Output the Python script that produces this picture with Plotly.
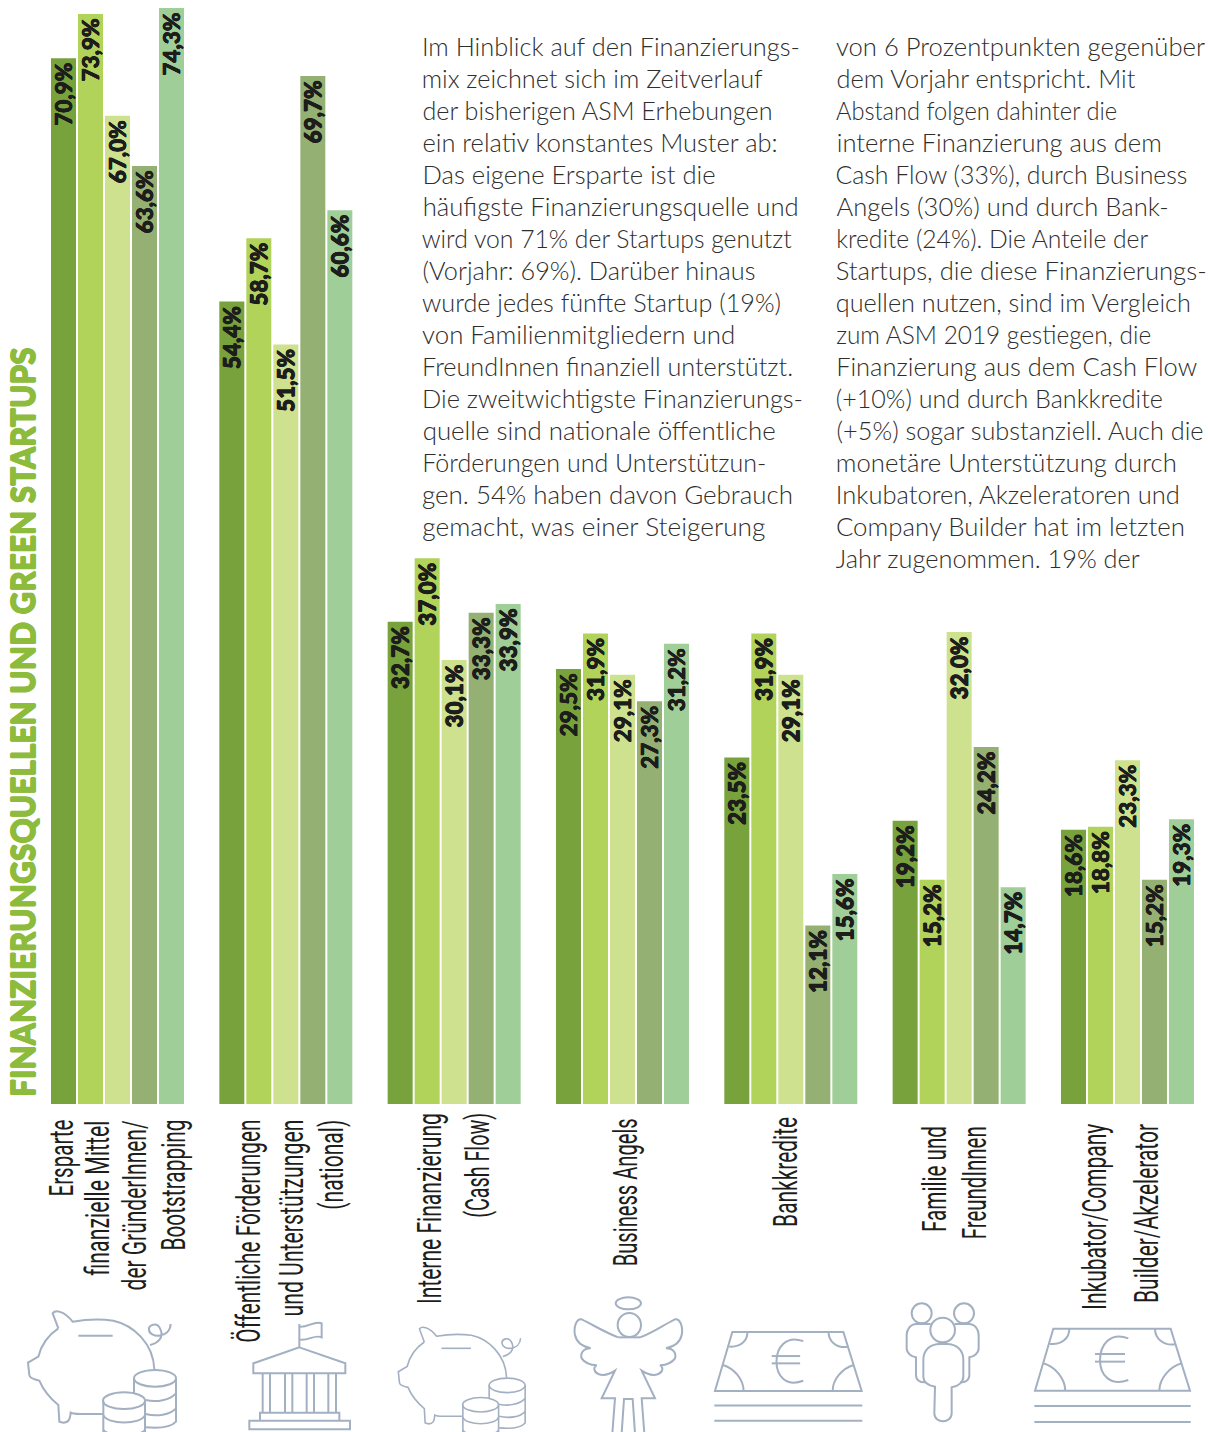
import re
import json
import plotly.graph_objects as go

W, H = 1208, 1432

categories = ["Ersparte", "Förderungen", "Cash Flow", "Business Angels", "Bankkredite", "Familie", "Inkubator"]
series_names = ["Reihe 1", "Reihe 2", "Reihe 3", "Reihe 4", "Reihe 5"]
s1 = [70.9, 54.4, 32.7, 29.5, 23.5, 19.2, 18.6]
s2 = [73.9, 58.7, 37.0, 31.9, 31.9, 15.2, 18.8]
s3 = [67.0, 51.5, 30.1, 29.1, 29.1, 32.0, 23.3]
s4 = [63.6, 69.7, 33.3, 27.3, 12.1, 24.2, 15.2]
s5 = [74.3, 60.6, 33.9, 31.2, 15.6, 14.7, 19.3]
all_series = [s1, s2, s3, s4, s5]
colors = ["#78a23c", "#b2d35a", "#cde18f", "#95b073", "#a0ce98"]

title_text = "FINANZIERUNGSQUELLEN UND GREEN STARTUPS"

col1_lines = [
    "Im Hinblick auf den Finanzierungs-", "mix zeichnet sich im Zeitverlauf",
    "der bisherigen ASM Erhebungen", "ein relativ konstantes Muster ab:",
    "Das eigene Ersparte ist die", "häufigste Finanzierungsquelle und",
    "wird von 71% der Startups genutzt", "(Vorjahr: 69%). Darüber hinaus",
    "wurde jedes fünfte Startup (19%)", "von Familienmitgliedern und",
    "FreundInnen finanziell unterstützt.", "Die zweitwichtigste Finanzierungs-",
    "quelle sind nationale öffentliche", "Förderungen und Unterstützun-",
    "gen. 54% haben davon Gebrauch", "gemacht, was einer Steigerung",
]
col1_ends = [800, 763, 772, 777, 715, 798, 792, 755, 781, 735, 793, 803, 775, 766, 793, 765]
col2_lines = [
    "von 6 Prozentpunkten gegenüber", "dem Vorjahr entspricht. Mit",
    "Abstand folgen dahinter die", "interne Finanzierung aus dem",
    "Cash Flow (33%), durch Business", "Angels (30%) und durch Bank-",
    "kredite (24%). Die Anteile der", "Startups, die diese Finanzierungs-",
    "quellen nutzen, sind im Vergleich", "zum ASM 2019 gestiegen, die",
    "Finanzierung aus dem Cash Flow", "(+10%) und durch Bankkredite",
    "(+5%) sogar substanziell. Auch die", "monetäre Unterstützung durch",
    "Inkubatoren, Akzeleratoren und", "Company Builder hat im letzten",
    "Jahr zugenommen. 19% der",
]
col2_ends = [1205, 1135, 1117, 1161, 1188, 1168, 1148, 1207, 1191, 1151, 1197, 1163, 1203, 1177, 1180, 1185, 1140]

label_lines = ["Ersparte", "finanzielle Mittel", "der GründerInnen/", "Bootstrapping",
               "Öffentliche Förderungen", "und Unterstützungen", "(national)",
               "Interne Finanzierung", "(Cash Flow)", "Business Angels", "Bankkredite",
               "Familie und", "FreundInnen", "Inkubator/Company", "Builder/Akzelerator"]
label_baseline = [72, 108, 146, 184, 259, 302, 343, 440, 488, 637, 797, 946, 985, 1106, 1157]
label_top = [1120, 1120, 1120, 1120, 1120, 1120, 1120, 1113, 1113, 1118, 1117, 1126, 1126, 1124, 1124]
label_bottom = [1197, 1275, 1290, 1251, 1343, 1317, 1210, 1304, 1218, 1266, 1227, 1232, 1239, 1310, 1303]

PX_PER_UNIT = 14.75
BASE_Y = 1104
GROUP0 = 117.5
PITCH = 168.33
INK = "#1d1d1b"

fig = go.Figure()
for name, vals, col in zip(series_names, all_series, colors):
    fig.add_bar(
        x=categories, y=vals, name=name, marker=dict(color=col, line=dict(width=0)),
        text=[f"{v:.1f}%\u200a".replace(".", ",") for v in vals],
        textposition="inside", insidetextanchor="end", textangle=-90, constraintext="none",
        textfont=dict(family="Lato", size=22.5, weight=900, color=INK,
                      shadow=f"0.4px 0 0 {INK}, -0.4px 0 0 {INK}, 0 0.4px 0 {INK}, 0 -0.4px 0 {INK}"),
        hoverinfo="skip", cliponaxis=False,
    )

ICON = "#a3b0c2"
shapes = []


def add_icon(path, sx, dx, sy, dy, width=2):
    def repl(m):
        X = float(m.group(1)) * sx + dx
        Y = float(m.group(2)) * sy + dy
        return f"{X / W:.5f},{1 - Y / H:.5f}"
    p = re.sub(r"(-?[\d.]+),(-?[\d.]+)", repl, path)
    shapes.append(dict(type="path", path=p, xref="paper", yref="paper", layer="above",
                       line=dict(color=ICON, width=width), fillcolor="rgba(0,0,0,0)"))


def ell(cx, cy, rx, ry):
    k = 0.5523
    return (f"M{cx - rx},{cy} C{cx - rx},{cy - k * ry} {cx - k * rx},{cy - ry} {cx},{cy - ry} "
            f"C{cx + k * rx},{cy - ry} {cx + rx},{cy - k * ry} {cx + rx},{cy} "
            f"C{cx + rx},{cy + k * ry} {cx + k * rx},{cy + ry} {cx},{cy + ry} "
            f"C{cx - k * rx},{cy + ry} {cx - rx},{cy + k * ry} {cx - rx},{cy} Z")


PIG = [
    "M175,685 L158,640 C165,630 190,630 218,665 C260,658 310,658 340,662 C400,675 460,730 463,808",
    "M308,942 L240,942 C225,942 215,940 212,938 C210,960 205,968 190,968 L178,965 L175,915 "
    "C150,895 130,870 118,842 C100,838 88,832 88,825 L84,788 L115,770 C125,730 145,705 175,685",
    "M235,707 L338,707",
    "M450,735 C470,730 495,715 480,685 C470,665 445,675 447,690 C450,715 510,715 512,672",
    ell(465, 835, 63, 25), "M402,835 L402,880", "M528,835 L528,965 C510,985 470,985 437,982",
    "M437,900 C470,908 510,900 528,880", "M437,942 C470,950 510,945 528,925",
    ell(372, 902, 63, 25), "M310,902 L310,1000", "M435,902 L435,1000",
    "M310,945 C320,975 425,975 435,945", "M310,990 C320,1010 425,1010 435,990",
]
for p in PIG:
    add_icon(p, 1 / 3, 0, 1 / 3, 1100)
    add_icon(p, 0.2857, 374.3, 0.2893, 1143.8, 1.6)

BANK = [
    "M898,742 L898,672", "M898,680 C920,685 945,660 965,670 L965,712 C945,702 920,725 898,718",
    "M898,742 L1036,790 L1036,820 L760,820 L760,790 Z",
    "M788,820 L788,938", "M810,820 L810,938", "M855,820 L855,938", "M877,820 L877,938",
    "M920,820 L920,938", "M942,820 L942,938", "M985,820 L985,938", "M1008,820 L1008,938",
    "M780,962 L780,938 L1018,938 L1018,962", "M748,962 L1050,962 L1050,988 L748,988 Z",
]
for p in BANK:
    add_icon(p, 1 / 3, 0, 1 / 3, 1100)

ANGEL = [
    ell(745, 610, 38, 18), ell(748, 675, 35, 36), "M715,712 L780,712",
    "M715,712 C680,700 640,675 605,658 C590,655 580,680 585,705 C590,730 610,740 632,745 "
    "C610,745 600,760 605,775 C615,790 635,795 650,796 C640,800 640,815 655,822 "
    "C670,828 690,822 705,812 L665,895 L705,895 L697,1000",
    "M780,712 C815,700 850,675 885,658 C900,655 910,680 905,705 C900,730 880,740 858,745 "
    "C880,745 890,760 885,775 C875,790 855,795 840,796 C850,800 850,815 835,822 "
    "C820,828 800,822 785,812 L825,895 L785,895 L793,1000",
    "M725,1000 L732,897 L758,897 L765,1000",
]
for p in ANGEL:
    add_icon(p, 1 / 3, 380, 1 / 3, 1100)

NOTE = [
    "M765,872 L820,686 L1172,686 L1230,872 Z",
    "M868,686 C868,715 845,735 810,732", "M1125,686 C1125,715 1150,738 1185,733",
    "M790,790 C825,800 855,835 856,872", "M1205,790 C1170,800 1138,835 1138,872",
    "M1045,715 C990,695 960,735 960,780 C960,825 990,860 1045,840",
    "M945,762 L1035,762", "M945,785 L1035,785",
    "M763,918 L1232,918", "M763,966 L1232,966",
]
for p in NOTE:
    add_icon(p, 1 / 3, 780, 1 / 3, 1100)
    add_icon(p, 0.3155, 473.6, 0.317, 1114.5)

FAMILY = [
    ell(425, 640, 30, 30), ell(552, 640, 30, 30), ell(488, 690, 37, 37),
    "M465,860 C440,855 430,845 430,830 L430,780 C430,750 450,732 480,732 L500,732 "
    "C530,732 550,750 550,780 L550,830 C550,845 535,860 515,862 L515,940 C515,972 463,972 463,940 Z",
    "M452,672 L410,672 C390,672 380,690 380,705 L380,745 C380,760 395,770 408,772 L408,825 C408,840 420,848 435,847",
    "M524,672 L566,672 C586,672 596,690 596,705 L596,745 C596,760 581,770 568,772 L568,825 C568,840 556,848 541,847",
]
for p in FAMILY:
    add_icon(p, 1 / 3, 780, 1 / 3, 1100)

TITLE_COL = "#8dbb3c"
annotations = [dict(
    text=title_text, textangle=-90, xref="paper", yref="paper", x=23 / W, y=1 - 1099 / H,
    xanchor="center", yanchor="bottom", showarrow=False,
    font=dict(family="Lato", size=31.5, weight=900, color=TITLE_COL,
              shadow=f"0.6px 0 0 {TITLE_COL}, -0.6px 0 0 {TITLE_COL}, 0 0.6px 0 {TITLE_COL}, 0 -0.6px 0 {TITLE_COL}"),
)]
lengths = {}
body_font = dict(family="Lato", size=25.5, weight=300, color="#2e2e2d")
for col_x, lines, ends in ((422, col1_lines, col1_ends), (836, col2_lines, col2_ends)):
    for i, (t, end) in enumerate(zip(lines, ends)):
        lengths[t] = end - col_x
        annotations.append(dict(text=t, xref="paper", yref="paper", x=(col_x + end) / 2 / W, y=1 - (46 + 32 * i) / H,
                                xanchor="center", yanchor="middle", showarrow=False, font=body_font))
LABEL_SIZE = 34
for t, base, top, bot in zip(label_lines, label_baseline, label_top, label_bottom):
    lengths[t] = bot - top
    annotations.append(dict(text=t, textangle=-90, xref="paper", yref="paper",
                            x=(base - 0.345 * LABEL_SIZE) / W, y=1 - (top + bot) / 2 / H,
                            xanchor="center", yanchor="middle", showarrow=False,
                            font=dict(family="Roboto", size=LABEL_SIZE, weight=400, color=INK)))

fig.update_layout(
    width=W, height=H, autosize=False, margin=dict(l=0, r=0, t=0, b=0, pad=0),
    paper_bgcolor="white", plot_bgcolor="white", showlegend=False, barmode="group",
    bargap=0.198, bargroupgap=0.074, shapes=shapes, annotations=annotations,
    xaxis=dict(type="category", categoryorder="array", categoryarray=categories,
               range=[-GROUP0 / PITCH, (W - GROUP0) / PITCH], visible=False, fixedrange=True),
    yaxis=dict(range=[-(H - BASE_Y) / PX_PER_UNIT, BASE_Y / PX_PER_UNIT], visible=False, fixedrange=True),
)

post = (
    "document.body.style.margin='0';document.documentElement.style.overflow='hidden';"
    "var L=" + json.dumps(lengths, ensure_ascii=False) + ";"
    "document.querySelectorAll('.annotation-text').forEach(function(e){"
    "var n=L[e.textContent];if(n){e.setAttribute('textLength',n);"
    "e.setAttribute('lengthAdjust','spacingAndGlyphs');}});"
)
fig.write_html("out.html", config=dict(displayModeBar=False), post_script=post)
